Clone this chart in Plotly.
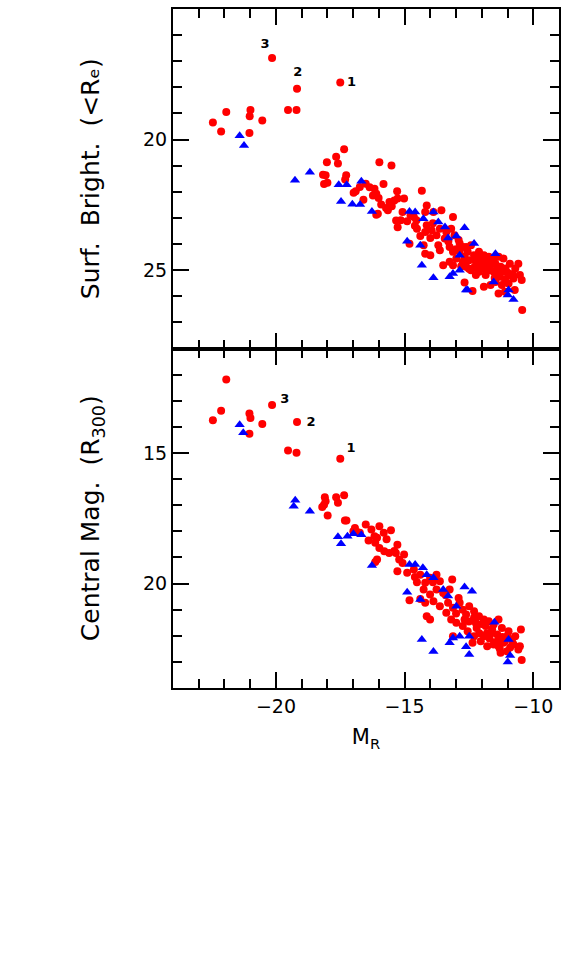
import plotly.graph_objects as go
from plotly.subplots import make_subplots

# top panel: surface brightness within Re
sb_red_x = [-22.45, -22.13, -21.93, -20.99, -21.02, -21.03, -20.53, -20.15, -19.53, -19.20, -19.18, -17.50,
            -17.35, -17.66, -18.02, -17.59, -18.17, -18.07, -18.13, -18.0, -17.27, -17.31, -15.98, -15.51,
            -15.82, -16.98, -16.9, -16.74, -16.51, -16.36, -16.17, -16.1, -16.23, -16.01, -15.91, -15.72,
            -15.65, -15.59, -15.4, -15.27, -15.02, -15.29, -14.33, -16.1, -16.04, -15.08, -15.33, -15.27,
            -15.15, -14.9, -14.77, -14.64, -14.54, -14.2, -14.14, -13.88, -13.57, -13.12, -14.52, -14.14,
            -14.2, -13.95, -14.39, -14.0, -13.76, -13.63, -13.38, -13.19, -13.06, -14.81, -14.26, -14.2,
            -14.0, -13.63, -13.25, -13.12, -12.86, -12.74, -12.55, -12.42, -12.67, -12.49, -12.3, -12.11,
            -11.92, -11.73, -11.54, -11.35, -11.16, -10.91, -10.58, -12.23, -12.04, -11.85, -11.66, -11.47,
            -11.27, -11.08, -10.7, -10.52, -10.45, -10.77, -10.96, -11.22, -11.47, -11.85, -12.11, -12.42,
            -12.61, -12.74, -13.5, -13.25, -13.12, -12.23, -11.92, -11.66, -11.35, -11.1, -10.72, -12.36,
            -12.67, -10.43, -11.35, -11.54, -11.73, -12.86, -12.99, -12.61, -13.44, -13.69,
            -12.2, -12.0, -11.8, -11.6, -11.4, -11.2, -11.0, -10.8, -12.5, -12.3, -12.1, -11.9,
            -11.7, -11.5, -11.3, -11.1, -10.9, -12.8, -13.0, -12.9, -13.3, -13.9, -14.6, -15.5, -16.6]
sb_red_y = [19.35, 19.69, 18.94, 18.87, 19.11, 19.75, 19.27, 16.88, 18.87, 18.87, 18.05, 17.81,
            20.37, 20.66, 20.87, 20.92, 21.35, 21.37, 21.70, 21.65, 21.37, 21.53, 20.87, 20.99,
            21.70, 22.04, 21.98, 21.82, 21.69, 21.83, 21.88, 22.07, 22.14, 22.24, 22.49, 22.62,
            22.71, 22.39, 22.33, 22.26, 22.26, 21.98, 21.96, 22.88, 22.84, 22.77, 23.1, 23.36,
            23.09, 23.13, 22.9, 22.96, 23.09, 22.77, 22.52, 22.77, 22.71, 22.96, 23.41, 23.28,
            23.54, 23.47, 23.69, 23.77, 23.66, 23.41, 23.54, 23.41, 23.66, 23.99, 24.05, 24.37,
            24.43, 24.24, 24.11, 24.3, 23.98, 24.11, 24.3, 24.05, 24.49, 24.62, 24.43, 24.3,
            24.43, 24.49, 24.55, 24.49, 24.55, 24.75, 24.75, 24.68, 24.81, 24.87, 24.81, 24.75,
            24.87, 24.94, 24.94, 25.19, 25.38, 25.32, 25.51, 25.57, 25.45, 25.19, 25.06, 25.0,
            24.87, 24.68, 24.81, 24.68, 24.81, 25.19, 25.64, 25.57, 25.89, 25.83, 25.76, 25.8,
            25.47, 26.53, 25.19, 25.06, 24.94, 24.3, 24.55, 24.11, 23.79, 24.05,
            24.6, 24.65, 24.65, 24.7, 24.95, 25.05, 25.1, 25.15, 24.95, 24.9, 24.55, 24.95,
            25.0, 25.3, 25.25, 25.35, 25.2, 24.85, 24.2, 23.85, 23.9, 23.2, 23.3, 22.55, 22.3]
sb_blue_x = [-21.41, -21.24, -19.26, -18.68, -17.56, -17.25, -16.68, -17.47, -17.03, -16.73, -16.27, -14.81,
             -14.59, -14.27, -13.88, -13.69, -13.43, -12.67, -14.9, -14.39, -13.31, -12.99, -12.3, -12.86,
             -14.33, -13.88, -13.25, -13.12, -12.86, -12.61, -12.55, -11.47, -11.54, -10.96, -10.99, -10.77]
sb_blue_y = [19.85, 20.23, 21.56, 21.25, 21.73, 21.73, 21.6, 22.37, 22.48, 22.49, 22.75, 22.75,
             22.77, 23.03, 22.77, 23.16, 23.35, 23.38, 23.89, 24.05, 23.77, 23.69, 23.98, 24.43,
             24.81, 25.29, 25.25, 25.13, 25.0, 25.76, 25.76, 24.37, 25.45, 25.76, 25.95, 26.12]

# bottom panel: central magnitude within R300
cm_red_x = [-21.93, -22.13, -22.45, -21.03, -20.99, -20.53, -21.03, -20.15, -19.18, -19.53, -19.2, -17.5,
            -17.35, -18.1, -18.07, -17.66, -17.59, -18.2, -18.13, -17.99, -17.32, -17.26, -16.99, -16.93,
            -16.83, -16.51, -16.74, -16.29, -15.98, -15.81, -15.53, -16.17, -16.07, -16.14, -15.98, -15.79,
            -15.6, -15.28, -15.34, -15.02, -15.21, -15.08, -15.28, -14.9, -16.07, -16.14, -14.64, -14.39,
            -14.52, -14.2, -14.01, -13.76, -13.63, -13.15, -14.26, -14.01, -13.76, -13.5, -13.25, -14.2,
            -14.39, -13.88, -13.63, -13.31, -13.12, -12.86, -12.74, -12.61, -12.49, -12.3, -12.11, -11.92,
            -11.73, -11.54, -11.35, -11.22, -10.96, -10.7, -10.48, -10.52, -10.45, -10.77, -11.02, -11.27,
            -11.54, -11.79, -12.04, -12.3, -12.55, -12.74, -12.99, -13.12, -12.36, -11.92, -11.6, -11.35,
            -11.16, -10.83, -14.14, -14.01, -14.81, -13.19, -13.38, -12.67, -12.23, -11.85, -11.35, -10.58,
            -12.2, -12.0, -11.8, -11.6, -11.4, -11.2, -11.0, -10.8, -12.5, -12.3, -12.1, -11.7,
            -11.5, -11.3, -11.1, -10.9, -12.9, -13.0, -13.4, -13.9, -14.6, -15.4, -15.7, -16.4]
cm_red_y = [12.19, 13.38, 13.75, 13.49, 13.66, 13.89, 14.26, 13.16, 13.81, 14.91, 14.99, 15.22,
            16.62, 16.7, 16.85, 16.7, 16.91, 17.07, 16.98, 17.39, 17.59, 17.59, 18.0, 17.87,
            18.04, 17.74, 18.06, 17.93, 17.81, 18.06, 17.96, 18.19, 18.25, 18.44, 18.64, 18.76,
            18.83, 18.51, 18.83, 18.89, 19.08, 19.21, 19.53, 19.59, 19.08, 19.18, 19.46, 19.66,
            19.95, 19.97, 19.78, 19.66, 19.91, 19.85, 20.23, 20.42, 20.23, 20.36, 20.23, 20.74,
            20.59, 20.68, 20.87, 20.74, 20.93, 20.74, 21.0, 21.19, 20.87, 21.06, 21.25, 21.38,
            21.44, 21.57, 21.38, 21.7, 21.83, 22.02, 21.76, 22.4, 22.93, 22.33, 22.59, 22.65,
            22.33, 22.4, 22.21, 22.02, 21.83, 21.63, 21.5, 22.02, 22.27, 22.02, 21.89, 22.14,
            22.27, 22.14, 21.25, 21.38, 20.64, 21.38, 21.12, 21.38, 21.51, 21.63, 22.4, 22.53,
            21.7, 21.55, 21.9, 21.75, 21.95, 22.05, 22.0, 22.3, 21.45, 21.3, 21.9, 22.1,
            22.25, 22.5, 22.2, 22.45, 20.55, 21.15, 20.45, 19.95, 19.75, 18.75, 18.3, 18.35]
cm_blue_x = [-21.41, -21.27, -19.25, -19.31, -18.68, -17.59, -17.47, -17.22, -16.99, -16.68, -16.27, -14.81,
             -14.59, -14.29, -14.14, -13.88, -13.5, -12.67, -12.38, -14.9, -14.39, -13.31, -12.99, -11.51,
             -14.33, -13.88, -13.25, -13.12, -12.86, -12.49, -12.61, -12.49, -10.96, -10.9, -10.99]
cm_blue_y = [13.92, 14.23, 16.81, 17.04, 17.23, 18.21, 18.48, 18.19, 18.09, 18.13, 19.31, 19.27,
             19.27, 19.4, 19.66, 19.78, 20.23, 20.13, 20.3, 20.33, 20.61, 20.48, 20.87, 21.48,
             22.14, 22.6, 22.27, 22.09, 22.02, 22.02, 22.42, 22.72, 22.14, 22.76, 23.0]

# numbered galaxies
lab_text = ["3", "2", "1"]
sb_lab_x = [-20.42, -19.15, -17.06]
sb_lab_y = [16.35, 17.46, 17.84]
cm_lab_x = [-19.66, -18.64, -17.08]
cm_lab_y = [12.96, 13.85, 14.85]

fig = make_subplots(rows=2, cols=1, vertical_spacing=0)

red = dict(color="#ff0000", size=8, symbol="circle")
blue = dict(color="#0000ff", size=9, symbol="triangle-up")

for row, (rx, ry, bx, by, lx, ly) in enumerate([
        (sb_red_x, sb_red_y, sb_blue_x, sb_blue_y, sb_lab_x, sb_lab_y),
        (cm_red_x, cm_red_y, cm_blue_x, cm_blue_y, cm_lab_x, cm_lab_y)], start=1):
    fig.add_trace(go.Scatter(x=rx, y=ry, mode="markers", marker=red, showlegend=False), row=row, col=1)
    fig.add_trace(go.Scatter(x=bx, y=by, mode="markers", marker=blue, showlegend=False), row=row, col=1)
    fig.add_trace(go.Scatter(x=lx, y=ly, mode="text", text=["<b>%s</b>" % t for t in lab_text],
                             textfont=dict(size=13, color="black", family="DejaVu Sans"),
                             showlegend=False), row=row, col=1)

axis_style = dict(showline=True, linewidth=2, linecolor="black", mirror="allticks",
                  ticks="inside", ticklen=16, tickwidth=2, tickcolor="black",
                  showgrid=False, zeroline=False,
                  tickfont=dict(size=19, color="black"),
                  minor=dict(ticks="inside", ticklen=9, tickwidth=2, tickcolor="black", dtick=1))

fig.update_xaxes(range=[-24, -9], tickvals=[-20, -15, -10],
                 ticktext=["\u221220", "\u221215", "\u221210"], **axis_style)
fig.update_xaxes(showticklabels=False, row=1, col=1)
fig.update_xaxes(title=dict(text="M<sub>R</sub>", font=dict(size=21, color="black"), standoff=14), row=2, col=1)
fig.update_yaxes(range=[28, 15], tickvals=[15, 20, 25], **axis_style, row=1, col=1)
fig.update_yaxes(range=[24, 11], tickvals=[15, 20], **axis_style, row=2, col=1)
fig.update_yaxes(title=dict(text="Surf.  Bright.  (&lt;R\u2091)",
                            font=dict(size=25, color="black"), standoff=36),
                 row=1, col=1)
fig.update_yaxes(title=dict(text="Central Mag.  (R<sub>300</sub>)", font=dict(size=25, color="black"), standoff=36),
                 row=2, col=1)

fig.update_layout(width=563, height=976, margin=dict(l=173, r=2, t=9, b=288),
                  plot_bgcolor="white", paper_bgcolor="white",
                  font=dict(family="DejaVu Sans", color="black"))

fig.write_html("out.html", config={"displayModeBar": False},
               post_script="document.body.style.margin='0';")
